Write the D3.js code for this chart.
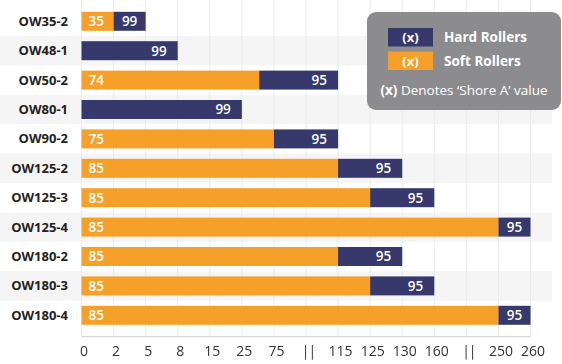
<!DOCTYPE html>
<html>
<head>
<meta charset="utf-8">
<script src="https://cdn.jsdelivr.net/npm/d3@7"></script>
<style>
  html, body { margin: 0; padding: 0; background: #fff; }
  svg { display: block; font-family: "Open Sans", "Noto Sans", sans-serif; }
  .axis-labels { will-change: transform; }
</style>
</head>
<body>
<svg id="chart" width="562" height="364"></svg>
<script>
// ---- data ----
const categories = ["OW35-2","OW48-1","OW50-2","OW80-1","OW90-2","OW125-2","OW125-3","OW125-4","OW180-2","OW180-3","OW180-4"];
// end of the soft (orange) segment, 0 = none
const softEnd = [2, 0, 52, 0, 75, 115, 125, 250, 115, 125, 250];
// end of the hard (blue) segment
const hardEnd = [5, 8, 115, 25, 115, 130, 160, 260, 130, 160, 260];
// 'Shore A' values shown in the bars
const softShore = [35, null, 74, null, 75, 85, 85, 85, 85, 85, 85];
const hardShore = [99, 99, 95, 99, 95, 95, 95, 95, 95, 95, 95];
// broken axis: tick values and their labels (breaks shown as ||)
const tickValues = [0, 2, 5, 8, 15, 25, 75, 95, 115, 125, 130, 160, 205, 250, 260];
const tickLabels = ["0","2","5","8","15","25","75","||","115","125","130","160","||","250","260"];

const colors = { soft: "#F6A02A", hard: "#37386B", legend: "#8c8c8f" };

const svg = d3.select("#chart");

const x0 = 81.5, x1 = 530.5;
const step = (x1 - x0) / (tickValues.length - 1);
const x = d3.scaleLinear()
  .domain(tickValues)
  .range(tickValues.map((d, i) => x0 + i * step));

const y = d3.scaleBand()
  .domain(categories)
  .range([6.6, 330])
  .paddingInner(0.354)
  .paddingOuter(0.177);

const axisY = 336.7;

// alternating row bands
svg.append("g").selectAll("rect")
  .data(categories.filter((d, i) => i % 2 === 1))
  .join("rect")
  .attr("x", 0)
  .attr("width", 552)
  .attr("y", d => y(d) + y.bandwidth() / 2 - y.step() / 2)
  .attr("height", y.step())
  .attr("fill", "#f5f5f5");

// gridlines
svg.append("g").selectAll("line")
  .data(tickValues)
  .join("line")
  .attr("x1", d => x(d)).attr("x2", d => x(d))
  .attr("y1", 0).attr("y2", axisY)
  .attr("stroke", "#ebebeb")
  .attr("stroke-width", 1);

// axis
const axis = d3.axisBottom(x)
  .tickValues(tickValues)
  .tickFormat((d, i) => tickLabels[i])
  .tickSize(0)
  .tickPadding(9);
const gAxis = svg.append("g")
  .attr("class", "axis-labels")
  .attr("transform", `translate(0,${axisY})`)
  .call(axis);
gAxis.select(".domain").attr("stroke", "#cfcfcf").attr("d", `M${x0},0H${x1}`);
gAxis.selectAll("text")
  .attr("dx", 2)
  .attr("font-size", 14)
  .attr("fill", "#333")
  .attr("letter-spacing", (d, i) => tickLabels[i] === "||" ? -1 : 0)
  .style("font-family", "'Open Sans', sans-serif");

// row labels
svg.append("g").selectAll("text")
  .data(categories)
  .join("text")
  .attr("x", 68)
  .attr("y", d => y(d) + y.bandwidth() / 2)
  .attr("dy", "0.35em")
  .attr("text-anchor", "end")
  .attr("font-size", 13)
  .attr("font-weight", 700)
  .attr("fill", "#222")
  .text(d => d);

const rows = categories.map((c, i) => ({ c, s: softEnd[i], h: hardEnd[i], ss: softShore[i], hs: hardShore[i] }));

// soft bars
svg.append("g").selectAll("rect")
  .data(rows.filter(d => d.s > 0))
  .join("rect")
  .attr("x", x(0))
  .attr("y", d => y(d.c))
  .attr("width", d => x(d.s) - x(0))
  .attr("height", y.bandwidth())
  .attr("fill", colors.soft);

// hard bars
svg.append("g").selectAll("rect")
  .data(rows)
  .join("rect")
  .attr("x", d => x(d.s))
  .attr("y", d => y(d.c))
  .attr("width", d => x(d.h) - x(d.s))
  .attr("height", y.bandwidth())
  .attr("fill", colors.hard);

// soft labels
svg.append("g").selectAll("text")
  .data(rows.filter(d => d.ss != null))
  .join("text")
  .attr("x", x(0) + 7)
  .attr("y", d => y(d.c) + y.bandwidth() / 2)
  .attr("dy", "0.36em")
  .attr("font-size", 13.5)
  .attr("font-weight", 600)
  .attr("fill", "#fff")
  .text(d => d.ss);

// hard labels
svg.append("g").selectAll("text")
  .data(rows)
  .join("text")
  .attr("x", d => (x(d.h) - x(d.s) < 40) ? (x(d.s) + x(d.h)) / 2 : x(d.h) - 11)
  .attr("text-anchor", d => (x(d.h) - x(d.s) < 40) ? "middle" : "end")
  .attr("y", d => y(d.c) + y.bandwidth() / 2)
  .attr("dy", "0.36em")
  .attr("font-size", 13.5)
  .attr("font-weight", 600)
  .attr("fill", "#fff")
  .text(d => d.hs);

// legend
const lg = svg.append("g");
lg.append("rect")
  .attr("x", 367).attr("y", 12)
  .attr("width", 194).attr("height", 98)
  .attr("rx", 9).attr("ry", 9)
  .attr("fill", colors.legend);

const legendItems = [
  { label: "Hard Rollers", color: colors.hard },
  { label: "Soft Rollers", color: colors.soft }
];
const li = lg.selectAll("g.item")
  .data(legendItems)
  .join("g")
  .attr("class", "item")
  .attr("transform", (d, i) => `translate(388,${28 + i * 23.5})`);
li.append("rect")
  .attr("width", 45).attr("height", 18.5)
  .attr("fill", d => d.color);
li.append("text")
  .attr("x", 22.5).attr("y", 9.5).attr("dy", "0.36em")
  .attr("text-anchor", "middle")
  .attr("font-size", 13).attr("font-weight", 700)
  .attr("fill", "#fff")
  .text("(x)");
li.append("text")
  .attr("x", 56).attr("y", 9.5).attr("dy", "0.36em")
  .attr("font-size", 13.5).attr("font-weight", 700)
  .attr("fill", "#fff")
  .text(d => d.label);

const note = lg.append("text")
  .attr("x", 464).attr("y", 90).attr("dy", "0.36em")
  .attr("text-anchor", "middle")
  .attr("font-size", 13.5)
  .attr("fill", "#fff");
note.append("tspan").attr("font-weight", 700).text("(x)");
note.append("tspan").text(" Denotes \u2018Shore A\u2019 value");
</script>
</body>
</html>
